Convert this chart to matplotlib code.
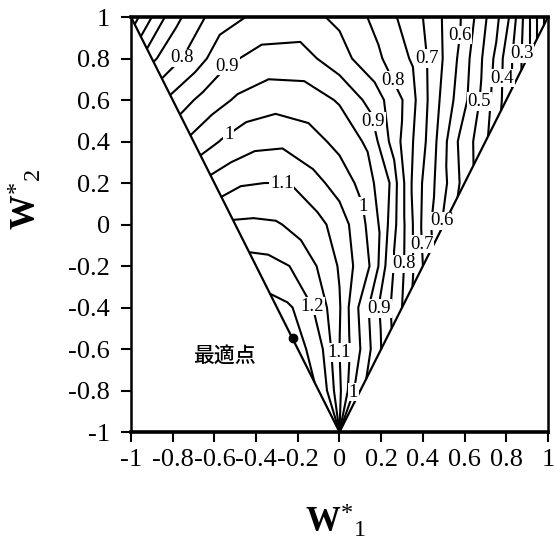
import numpy as np
import matplotlib.pyplot as plt

plt.rcParams['font.family'] = ['Liberation Serif', 'DejaVu Sans']
plt.rcParams['mathtext.fontset'] = 'custom'
plt.rcParams['mathtext.rm'] = 'Liberation Serif'
plt.rcParams['mathtext.it'] = 'Liberation Serif:italic'
plt.rcParams['mathtext.bf'] = 'Liberation Serif:bold'

# rows: W*2 value, columns: relative position across the triangle (-1 left edge, 1 right edge)
w2_rows = [1.0, 0.8, 0.6, 0.4, 0.2, 0.0, -0.2, -0.4, -0.6, -0.8, -1.0]
t_cols = [-1.0, -0.8, -0.6, -0.4, -0.2, 0.0, 0.2, 0.4, 0.6, 0.8, 1.0]
eff = [
    [0.57, 0.73, 0.82, 0.86, 0.87, 0.84, 0.78, 0.70, 0.59, 0.42, 0.12],
    [0.74, 0.815, 0.89, 0.92, 0.92, 0.87, 0.81, 0.74, 0.62, 0.47, 0.27],
    [0.865, 0.92, 0.96, 0.98, 0.975, 0.945, 0.88, 0.79, 0.65, 0.53, 0.38],
    [0.965, 1.005, 1.035, 1.04, 1.02, 0.985, 0.94, 0.81, 0.695, 0.555, 0.46],
    [1.07, 1.095, 1.10, 1.10, 1.065, 1.03, 0.98, 0.90, 0.73, 0.63, 0.53],
    [1.16, 1.16, 1.155, 1.135, 1.115, 1.075, 1.02, 0.94, 0.815, 0.69, 0.59],
    [1.22, 1.215, 1.20, 1.175, 1.135, 1.095, 1.04, 0.99, 0.87, 0.79, 0.70],
    [1.265, 1.255, 1.235, 1.195, 1.15, 1.105, 1.03, 0.97, 0.91, 0.855, 0.80],
    [1.27, 1.25, 1.225, 1.20, 1.15, 1.10, 1.06, 1.02, 0.98, 0.94, 0.90],
    [1.245, 1.225, 1.20, 1.17, 1.14, 1.11, 1.08, 1.05, 1.01, 0.99, 0.97],
    [1.245, 1.225, 1.20, 1.17, 1.14, 1.11, 1.08, 1.05, 1.01, 0.99, 0.97],
]
minor_levels = [0.15, 0.2, 0.25, 0.35, 0.45, 0.55, 0.65, 0.75, 0.85, 0.95, 1.05, 1.15, 1.25]
label_levels = [0.3, 0.4, 0.5, 0.6, 0.7, 0.8, 0.9, 1.0, 1.1, 1.2]
label_pos = [(-0.765, 0.81), (-0.544, 0.769), (-0.54, 0.447), (-0.277, 0.178),
             (0.572, 0.913), (0.428, 0.80), (0.275, 0.705), (0.155, 0.495),
             (0.872, 0.825), (0.784, 0.705), (0.68, 0.592), (0.098, 0.086),
             (0.486, 0.018), (0.402, -0.094), (0.309, -0.19), (0.194, -0.404),
             (0.002, -0.617), (0.062, -0.806), (-0.129, -0.392)]
opt_w1, opt_w2 = -0.225, -0.548
ticks = [-1, -0.8, -0.6, -0.4, -0.2, 0, 0.2, 0.4, 0.6, 0.8, 1]
tick_labels = ['-1', '-0.8', '-0.6', '-0.4', '-0.2', '0', '0.2', '0.4', '0.6', '0.8', '1']

T, W2 = np.meshgrid(t_cols, w2_rows)
W1 = T * (1 + W2) / 2
Z = np.array(eff)

fig = plt.figure(figsize=(5.56, 5.45), dpi=100)
ax = fig.add_axes([0.2356, 0.2073, 0.75, 0.7615])

ax.contour(W1, W2, Z, levels=minor_levels, colors='k', linewidths=1.5)
cs = ax.contour(W1, W2, Z, levels=label_levels, colors='k', linewidths=1.5)
texts = ax.clabel(cs, fmt='%g', fontsize=13.5, inline=False, manual=label_pos)
for t in texts:
    t.set_rotation(0)
    t.set_bbox(dict(facecolor='white', edgecolor='none', pad=0.5))
    t.set_zorder(5)
ax.plot([-1, 0, 1], [1, -1, 1], color='k', lw=1.6, clip_on=False)
ax.plot(opt_w1, opt_w2, 'o', color='k', ms=6, zorder=6)
ax.text(-0.554, -0.634, '最適点', family=['Noto Sans CJK JP'], fontsize=15,
        fontweight='medium', ha='center', va='center')

ax.set_xlim(-1, 1)
ax.set_ylim(-1, 1)
ax.set_xticks(ticks)
ax.set_xticklabels(tick_labels)
ax.set_yticks(ticks)
ax.set_yticklabels(tick_labels)
ax.tick_params(direction='out', length=7, width=1.5, labelsize=19)
ax.tick_params(axis='x', pad=5)
ax.tick_params(axis='y', pad=8)
for side in ['top', 'bottom']:
    ax.spines[side].set_linewidth(2.6)
for side in ['left', 'right']:
    ax.spines[side].set_linewidth(1.8)

ax.set_xlabel(r'$\mathbf{W}^{*}{}_{1}$', fontsize=25)
ax.set_ylabel(r'$\mathbf{W}^{*}{}_{2}$', fontsize=25)
ax.xaxis.set_label_coords(0.49, -0.17)
ax.yaxis.set_label_coords(-0.21, 0.56)

fig.savefig('out.png', dpi=100)
